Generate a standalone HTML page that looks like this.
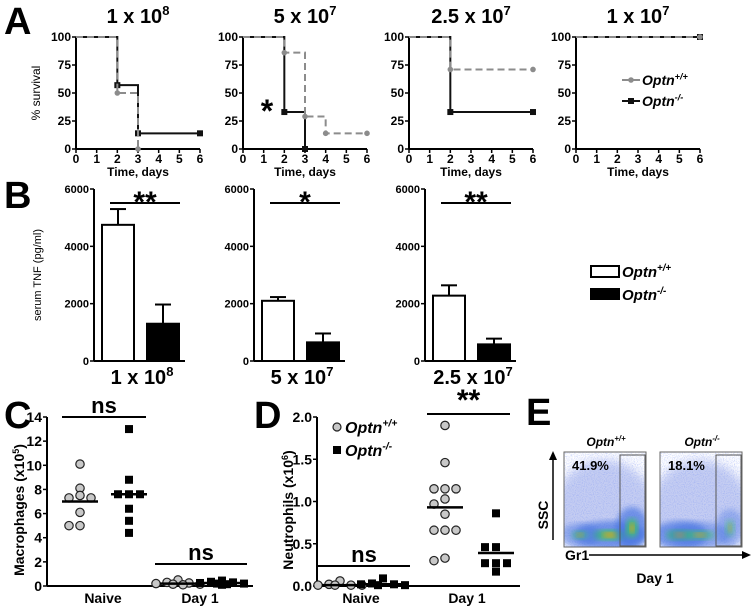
<!DOCTYPE html>
<html><head><meta charset="utf-8">
<style>
html,body{margin:0;padding:0;background:#fff;}
svg{display:block;font-family:"Liberation Sans",Arial,sans-serif;font-weight:bold;}
</style></head>
<body>
<svg id="fig" width="754" height="610" viewBox="0 0 754 610" xmlns="http://www.w3.org/2000/svg">
<defs>
<filter id="blur3"><feGaussianBlur stdDeviation="3"/></filter>
<filter id="blur5"><feGaussianBlur stdDeviation="5"/></filter>
<filter id="noise"><feTurbulence type="fractalNoise" baseFrequency="0.9" numOctaves="1" seed="3"/><feColorMatrix values="0 0 0 0 0.2  0 0 0 0 0.3  0 0 0 0 0.9  0 0 0 -2.2 1.25"/><feComposite in2="SourceGraphic" operator="in"/></filter>
</defs>
</svg>
<script>
// ---- Panel A data (survival %) ----
const survDoses = ["1 x 10", "5 x 10", "2.5 x 10", "1 x 10"];
const survExps = ["8", "7", "7", "7"];
const survDays = [0,1,2,3,4,5,6];
const survTicks = [0,25,50,75,100];
const survWT_t = [[0,2,3],[0,2,3,4,6],[0,2,6],[0,6]];
const survWT_v = [[100,50,0],[100,86,29,14,14],[100,71,71],[100,100]];
const survKO_t = [[0,2,3,6],[0,2,3],[0,2,6],[0,6]];
const survKO_v = [[100,57,14,14],[100,33,0],[100,33,33],[100,100]];
// ---- Panel B data (serum TNF) ----
const tnfDoses = ["1 x 10","5 x 10","2.5 x 10"];
const tnfExps = ["8","7","7"];
const tnfTicks = [0,2000,4000,6000];
const tnfWT = [4750, 2100, 2280];
const tnfWTerr = [550, 130, 360];
const tnfKO = [1300, 650, 580];
const tnfKOerr = [670, 310, 200];
const tnfSig = ["**","*","**"];
// ---- Panel C data (macrophages x10^5) ----
const macTicks = [0,2,4,6,8,10,12,14];
const macNaiveWT = [10.1,8.1,7.5,7.3,7.3,6.1,5.0,5.0];
const macNaiveKO = [13.0,8.8,7.6,7.6,7.6,6.4,5.4,4.4];
const macDay1WT = [0.5,0.3,0.25,0.2,0.15,0.15,0.1];
const macDay1KO = [0.45,0.35,0.3,0.25,0.2,0.2,0.15,0.1];
const macMedians = [7.0,7.6,0.2,0.25];
// ---- Panel D data (neutrophils x10^6) ----
const neuTicks = [0,0.5,1.0,1.5,2.0];
const neuNaiveWT = [0.06,0.02,0.01,0.01,0.01,0.01];
const neuNaiveKO = [0.09,0.03,0.02,0.02,0.01,0.01];
const neuDay1WT = [1.9,1.46,1.15,1.15,1.15,1.03,0.97,0.85,0.66,0.66,0.66,0.33,0.30];
const neuDay1KO = [0.86,0.46,0.46,0.27,0.27,0.27,0.17];
const neuMedians = [0.01,0.02,0.93,0.39];

const NS="http://www.w3.org/2000/svg";
const svg=document.getElementById('fig');
function mk(tag,attrs,parent){const e=document.createElementNS(NS,tag);for(const k in attrs)e.setAttribute(k,attrs[k]);(parent||svg).appendChild(e);return e;}
function txt(x,y,s,size,anchor,parent,extra){const t=mk('text',Object.assign({x:x,y:y,'font-size':size,'text-anchor':anchor||'middle',fill:'#000'},extra||{}),parent);t.textContent=s;return t;}
function supTxt(x,y,base,sup,size,anchor,parent,italic){
  const t=mk('text',{x:x,y:y,'font-size':size,'text-anchor':anchor||'middle',fill:'#000','font-style':italic?'italic':'normal'},parent);
  const a=mk('tspan',{},t);a.textContent=base;
  const b=mk('tspan',{dy:-size*0.4,'font-size':size*0.65},t);b.textContent=sup;return t;}

// panel letters
[["A",4,34],["B",4,208],["C",4,428],["D",254,428],["E",526,425]].forEach(l=>{
  const t=txt(l[1],l[2],l[0],38,'start');
  
  
});

// ---- Panel A ----
const aX0=[76,243,409,576], aW=124, aY0=149, aH=112;
survDoses.forEach((d,i)=>{
  const g=mk('g',{});
  
  
  const x0=aX0[i];
  const sx=v=>x0+v/6*aW, sy=v=>aY0-v/100*aH;
  const tt=supTxt(x0+62,23,d,survExps[i],20,'middle',g);
  
  
  mk('line',{x1:x0,y1:aY0,x2:x0+aW,y2:aY0,stroke:'#000','stroke-width':2},g);
  mk('line',{x1:x0,y1:aY0,x2:x0,y2:aY0-aH,stroke:'#000','stroke-width':2},g);
  survDays.forEach(v=>{mk('line',{x1:sx(v),y1:aY0,x2:sx(v),y2:aY0+4,stroke:'#000','stroke-width':1.5},g);txt(sx(v),aY0+14,String(v),12,'middle',g);});
  survTicks.forEach(v=>{mk('line',{x1:x0-4,y1:sy(v),x2:x0,y2:sy(v),stroke:'#000','stroke-width':1.5},g);txt(x0-5,sy(v)+4,String(v),12,'end',g);});
  txt(x0+62,176,'Time, days',12,'middle',g);
  function step(ts,vs,color,dash,marker,name){
    let p='M'+sx(ts[0])+' '+sy(vs[0]);
    for(let k=1;k<ts.length;k++){p+=' H'+sx(ts[k])+' V'+sy(vs[k]);}
    const pe=mk('path',{d:p,fill:'none',stroke:color,'stroke-width':2,'stroke-dasharray':dash},g);
    
    
    for(let k=1;k<ts.length;k++){
      if(marker==='sq')mk('rect',{x:sx(ts[k])-3,y:sy(vs[k])-3,width:6,height:6,fill:color},g);
      else mk('circle',{cx:sx(ts[k]),cy:sy(vs[k]),r:2.8,fill:color},g);
    }
  }
  step(survKO_t[i],survKO_v[i],'#111','none','sq','survival-ko-line');
  step(survWT_t[i],survWT_v[i],'#8c8c8c','7 4','c','survival-wt-line');
  if(i===0){const yl=txt(0,0,'% survival',12,'middle',g,{transform:'translate(40,93) rotate(-90)',"font-weight":"normal"});}
  if(i===1){txt(x0+24,122,'*',32,'middle',g);}
});
// A legend
(function(){const g=mk('g',{});


mk('line',{x1:622,y1:80,x2:640,y2:80,stroke:'#8c8c8c','stroke-width':2},g);mk('circle',{cx:631,cy:80,r:2.8,fill:'#8c8c8c'},g);
supTxt(642,85,'Optn','+/+',14,'start',g,true);
mk('line',{x1:622,y1:101,x2:640,y2:101,stroke:'#111','stroke-width':2},g);mk('rect',{x:628,y:98,width:6,height:6,fill:'#111'},g);
supTxt(642,106,'Optn','-/-',14,'start',g,true);})();

// ---- Panel B ----
const bX0=[94,254,425], bY0=361, bH=172;
tnfDoses.forEach((d,i)=>{
  const g=mk('g',{});
  
  
  const x0=bX0[i], sy=v=>bY0-v/6000*bH;
  mk('line',{x1:x0,y1:bY0,x2:x0+91,y2:bY0,stroke:'#000','stroke-width':2},g);
  mk('line',{x1:x0,y1:bY0,x2:x0,y2:bY0-bH,stroke:'#000','stroke-width':2},g);
  tnfTicks.forEach(v=>{mk('line',{x1:x0-4,y1:sy(v),x2:x0,y2:sy(v),stroke:'#000','stroke-width':1.5},g);txt(x0-5,sy(v)+4,String(v),11,'end',g);});
  const bw=32;
  [[tnfWT[i],tnfWTerr[i],'#fff',x0+8,'tnf-bar-wt'],[tnfKO[i],tnfKOerr[i],'#000',x0+53,'tnf-bar-ko']].forEach(b=>{
    mk('line',{x1:b[3]+bw/2,y1:sy(b[0]),x2:b[3]+bw/2,y2:sy(b[0]+b[1]),stroke:'#000','stroke-width':2},g);
    mk('line',{x1:b[3]+bw/2-8,y1:sy(b[0]+b[1]),x2:b[3]+bw/2+8,y2:sy(b[0]+b[1]),stroke:'#000','stroke-width':2},g);
    const r=mk('rect',{x:b[3],y:sy(b[0]),width:bw,height:bY0-sy(b[0]),fill:b[2],stroke:'#000','stroke-width':2},g);
    
    
  });
  mk('line',{x1:x0+16,y1:203,x2:x0+86,y2:203,stroke:'#000','stroke-width':2},g);
  txt(x0+51,212,tnfSig[i],30,'middle',g);
  supTxt(x0+48,384,d,tnfExps[i],20,'middle',g);
});
(function(){const yl=txt(0,0,'serum TNF (pg/ml)',11,'middle',null,{transform:'translate(41,275) rotate(-90)','font-weight':'normal'});

const g=mk('g',{});


mk('rect',{x:591,y:266,width:28,height:11,fill:'#fff',stroke:'#000','stroke-width':2},g);
supTxt(622,277,'Optn','+/+',15,'start',g,true);
mk('rect',{x:590,y:288,width:30,height:12,fill:'#000'},g);
supTxt(622,300,'Optn','-/-',15,'start',g,true);})();

// ---- scatter helper ----
function scatter(cfg){
  const g=mk('g',{});
  
  
  const sy=v=>cfg.y0-v/cfg.max*cfg.h;
  mk('line',{x1:cfg.x0,y1:cfg.y0,x2:cfg.x1,y2:cfg.y0,stroke:'#000','stroke-width':2},g);
  mk('line',{x1:cfg.x0,y1:cfg.y0,x2:cfg.x0,y2:cfg.y0-cfg.h,stroke:'#000','stroke-width':2},g);
  cfg.ticks.forEach(v=>{mk('line',{x1:cfg.x0-4,y1:sy(v),x2:cfg.x0,y2:sy(v),stroke:'#000','stroke-width':1.5},g);txt(cfg.x0-5,sy(v)+5,cfg.fmt(v),14,'end',g);});
  cfg.groups.forEach((grp,gi)=>{
    const vals=grp.vals;
    const placed=[];
    vals.forEach(v=>{
      const y=sy(v);
      const near=placed.filter(p=>Math.abs(p.y-y)<7).length;
      const offs=[0,-11,11,-22,22,-5,5];
      const x=grp.cx+offs[near%offs.length];
      placed.push({y:y});
      let m;
      if(grp.sq)m=mk('rect',{x:x-4,y:y-4,width:8,height:8,fill:'#000'},g);
      else m=mk('circle',{cx:x,cy:y,r:4.2,fill:'#c8c8c8',stroke:'#222','stroke-width':1.2},g);
      
      
    });
    const ml=mk('line',{x1:grp.cx-18,y1:sy(cfg.medians[gi]),x2:grp.cx+18,y2:sy(cfg.medians[gi]),stroke:'#000','stroke-width':2.5},g);
    
    
  });
  cfg.sig.forEach(s=>{mk('line',{x1:s[0],y1:s[2],x2:s[1],y2:s[2],stroke:'#000','stroke-width':2},g);txt((s[0]+s[1])/2,s[2]-4,s[3],s[4],'middle',g);});
  cfg.xlabels.forEach(l=>txt(l[0],603,l[1],14,'middle',g));
  const yl=mk('text',{transform:'translate('+cfg.ylx+',510) rotate(-90)','font-size':14,'text-anchor':'middle',fill:'#000'},g);
  const a=mk('tspan',{},yl);a.textContent=cfg.ylabel;
  const b=mk('tspan',{dy:-5,'font-size':9},yl);b.textContent=cfg.yexp;
  const c=mk('tspan',{dy:5},yl);c.textContent=')';
  return g;
}
scatter({name:'macrophage-plot',x0:47,x1:253,y0:586,h:169,max:14,ticks:macTicks,fmt:v=>String(v),
  groups:[{cx:80,vals:macNaiveWT},{cx:129,vals:macNaiveKO,sq:true},{cx:178,vals:macDay1WT},{cx:222,vals:macDay1KO,sq:true}],
  medians:macMedians,sig:[[62,146,417,'ns',22],[155,247,564,'ns',22]],
  xlabels:[[103,'Naive'],[200,'Day 1']],ylx:24,ylabel:'Macrophages (x10',yexp:'5'});
scatter({name:'neutrophil-plot',x0:317,x1:520,y0:586,h:169,max:2,ticks:neuTicks,fmt:v=>v.toFixed(1),
  groups:[{cx:340,vals:neuNaiveWT},{cx:383,vals:neuNaiveKO,sq:true},{cx:445,vals:neuDay1WT},{cx:496,vals:neuDay1KO,sq:true}],
  medians:neuMedians,sig:[[318,410,566,'ns',22],[427,510,414,'**',30]],
  xlabels:[[361,'Naive'],[467,'Day 1']],ylx:293,ylabel:'Neutrophils (x10',yexp:'6'});
(function(){const g=mk('g',{});


mk('circle',{cx:337,cy:427,r:4,fill:'#c8c8c8',stroke:'#222','stroke-width':1.2},g);
supTxt(345,433,'Optn','+/+',16,'start',g,true);
mk('rect',{x:333,y:446,width:8,height:8,fill:'#000'},g);
supTxt(345,456,'Optn','-/-',16,'start',g,true);})();

// ---- Panel E (flow plots) ----
[[564,'Optn','+/+','41.9%',[[610,535,30,9,0.9],[632,528,10,16,0.9],[580,535,14,7,0.6]]],[660,'Optn','-/-','18.1%',[[680,535,22,9,0.9],[700,535,25,8,0.6],[730,528,8,14,0.5]]]].forEach((f,i)=>{
  const g=mk('g',{});
  
  
  const x=f[0];
  const cp=mk('clipPath',{id:'cp'+i},g);mk('rect',{x:x,y:452,width:82,height:95},cp);
  const inner=mk('g',{'clip-path':'url(#cp'+i+')'},g);
  mk('ellipse',{cx:x+40,cy:510,rx:50,ry:50,fill:'#c5cdf2',filter:'url(#blur5)'},inner);
  mk('rect',{x:x,y:452,width:82,height:95,fill:'#fff',filter:'url(#noise)',opacity:0.5},inner);
  f[4].forEach(e=>{
    mk('ellipse',{cx:e[0],cy:e[1],rx:e[2]+6,ry:e[3]+5,fill:'#3f6fe0',opacity:e[4]*0.7,filter:'url(#blur3)'},inner);
    mk('ellipse',{cx:e[0],cy:e[1],rx:e[2]*0.6,ry:e[3]*0.6,fill:'#3fc070',opacity:e[4],filter:'url(#blur3)'},inner);
    mk('ellipse',{cx:e[0],cy:e[1],rx:e[2]*0.25,ry:e[3]*0.3,fill:'#e8a020',opacity:e[4],filter:'url(#blur3)'},inner);
  });
  mk('rect',{x:x,y:452,width:82,height:95,fill:'none',stroke:'#666','stroke-width':1},g);
  mk('rect',{x:x+56,y:455,width:25,height:91,fill:'none',stroke:'#555','stroke-width':1},g);
  txt(x+8,470,f[3],13,'start',g);
  supTxt(x+42,446,f[1],f[2],12,'middle',g,true);
});
(function(){const g=mk('g',{});


mk('line',{x1:553,y1:540,x2:553,y2:458,stroke:'#000','stroke-width':1.5},g);
mk('path',{d:'M549,460 L553,451 L557,460 Z',fill:'#000'},g);
txt(0,0,'SSC',14,'middle',g,{transform:'translate(548,515) rotate(-90)'});
txt(565,560,'Gr1',14,'start',g);
mk('line',{x1:589,y1:555,x2:744,y2:555,stroke:'#000','stroke-width':1.5},g);
mk('path',{d:'M742,551 L751,555 L742,559 Z',fill:'#000'},g);
txt(655,583,'Day 1',14,'middle',g);})();
</script>
</body></html>
